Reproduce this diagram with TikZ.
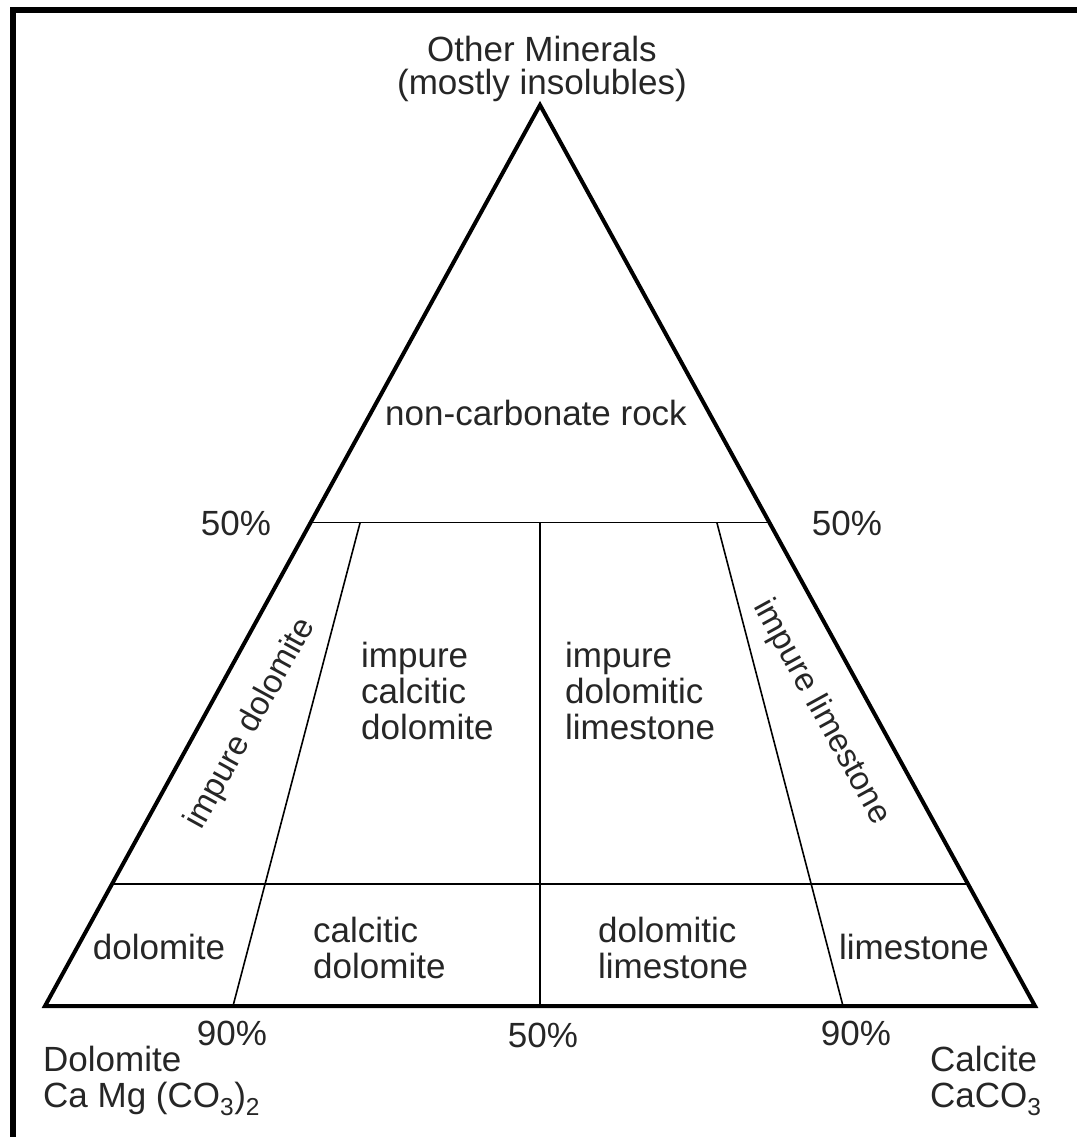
\documentclass[tikz,border=0pt]{standalone}
\usepackage{fontspec}
\setmainfont{Liberation Sans}
\usetikzlibrary{calc}
\begin{document}
\begin{tikzpicture}[x=1pt,y=-1pt,
  lbl/.style={inner sep=0pt, font=\fontsize{35}{36}\selectfont, text=black!85},
  toplbl/.style={inner sep=0pt, font=\fontsize{35}{33}\selectfont, text=black!85},
  slant/.style={inner sep=0pt, font=\fontsize{33}{36}\selectfont, text=black!85},
  outline/.style={line width=4pt, line join=miter},
  divider/.style={line width=1.6pt},
  frameline/.style={line width=6pt}]
\useasboundingbox (0,0) rectangle (1077,1137);
\fill[white] (0,0) rectangle (1077,1137);

% frame
\draw[frameline] (13,1137) -- (13,10) -- (1077,10);

% triangle corners
\coordinate (apex) at (540,105);
\coordinate (bl) at (45,1006);
\coordinate (br) at (1035,1006);

% 50% line
\coordinate (h50l) at ($(apex)!0.4634!(bl)$);
\coordinate (h50r) at ($(apex)!0.4634!(br)$);
% 90% line
\coordinate (h90l) at ($(apex)!0.8647!(bl)$);
\coordinate (h90r) at ($(apex)!0.8647!(br)$);

% inner dividers
\coordinate (ltop) at (360,523);
\coordinate (lbot) at (233,1006);
\coordinate (mtop) at (540,523);
\coordinate (mbot) at (540,1006);
\coordinate (rtop) at (717,523);
\coordinate (rbot) at (843,1006);

\draw[divider] (h50l) -- (h50r);
\draw[divider] (h90l) -- (h90r);
\draw[divider] (ltop) -- (lbot);
\draw[divider] (mtop) -- (mbot);
\draw[divider] (rtop) -- (rbot);
\draw[outline] (apex) -- (bl) -- (br) -- cycle;

% corner labels (anchor base = baseline of the last line)
\node[toplbl, anchor=base, align=center] (other) at (542,95) {Other Minerals\\(mostly insolubles)};
\node[lbl, anchor=base west, align=left] (dolo) at (43,1107) {Dolomite\\Ca Mg (CO\textsubscript{3})\textsubscript{2}};
\node[lbl, anchor=base west, align=left] (calc) at (930,1107) {Calcite\\CaCO\textsubscript{3}};

% percentages
\node[lbl, anchor=base] (p50l) at (236,535) {50\%};
\node[lbl, anchor=base] (p50r) at (847,535) {50\%};
\node[lbl, anchor=base] (p50b) at (543,1047) {50\%};
\node[lbl, anchor=base] (p90l) at (232,1045) {90\%};
\node[lbl, anchor=base] (p90r) at (856,1045) {90\%};

% field names
\node[lbl, anchor=base] (noncarb) at (536,425) {non-carbonate rock};
\node[lbl, anchor=base west, align=left] (icd) at (361,739) {impure\\calcitic\\dolomite};
\node[lbl, anchor=base west, align=left] (idl) at (565,739) {impure\\dolomitic\\limestone};
\node[slant, rotate=61.2] (idolo) at (251,724) {impure dolomite};
\node[slant, rotate=-61.2] (ilime) at (821,712) {impure limestone};
\node[lbl] (dolf) at (159,947) {dolomite};
\node[lbl, anchor=base west, align=left] (cdol) at (313,978) {calcitic\\dolomite};
\node[lbl, anchor=base west, align=left] (dlime) at (598,978) {dolomitic\\limestone};
\node[lbl] (limef) at (914,947) {limestone};
\end{tikzpicture}
\end{document}
